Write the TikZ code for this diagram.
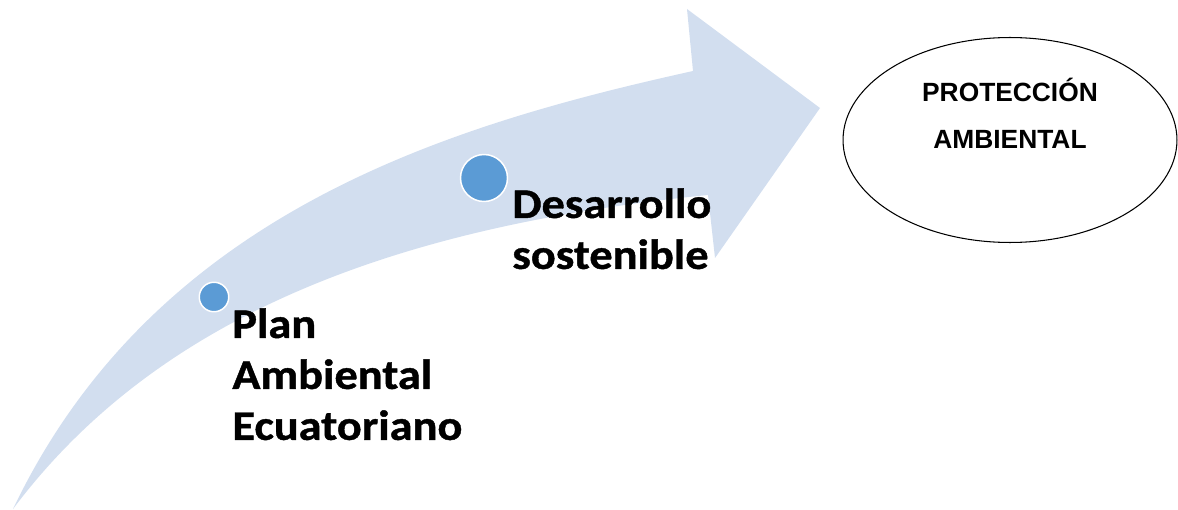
\documentclass[tikz,border=0pt]{standalone}
\usepackage{fontspec}
\usepackage{tikz}
\usetikzlibrary{shapes.geometric}
\setmainfont{Liberation Sans}
\newfontfamily\carlito{Carlito}[FakeStretch=1.1, FakeBold=1]
\definecolor{flechaazul}{RGB}{210,222,239}
\definecolor{puntoazul}{RGB}{91,155,213}

\tikzset{
	punto/.style={circle, fill=puntoazul, draw=white, line width=0.85pt, inner sep=0pt},
	etapa/.style={align=left, inner sep=0pt, anchor=north west, font=\carlito\bfseries\fontsize{24}{29}\selectfont},
}

\begin{document}
\begin{tikzpicture}[x=0.02cm, y=-0.02cm]
			\useasboundingbox (0,0) rectangle (1178,510);

			%% Flecha
			\fill[flechaazul] (13,509) .. controls (155,212) and (449,125) .. (693,71)
				-- (687,9) -- (820,108) -- (715,258) -- (708,195)
				.. controls (409,225) and (163,309) .. (13,509) -- cycle;

			%% Puntos
			\node[punto, minimum size=0.59cm] (p1) at (214,297) {};
			\node[punto, minimum size=0.94cm] (p2) at (484,178) {};

			%% Etapas
			\node[etapa] (plan) at (232,308) {Plan\\Ambiental\\Ecuatoriano};
			\node[etapa] (desarrollo) at (512,188) {Desarrollo\\sostenible};

			%% Proteccion ambiental
			\node[draw, ellipse, minimum width=6.68cm, minimum height=4.1cm, line width=0.6pt] (meta) at (1010,140) {};
			\node[anchor=north, align=center, inner sep=0pt, font=\bfseries\fontsize{15}{26.4}\selectfont] (proteccion) at (1010,78) {PROTECCIÓN\\AMBIENTAL};
\end{tikzpicture}
\end{document}
